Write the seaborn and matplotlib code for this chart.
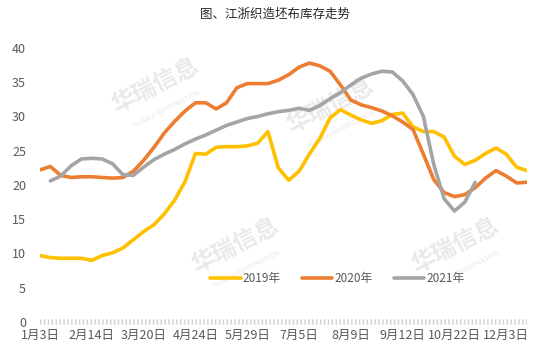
import numpy as np
import pandas as pd
import matplotlib
matplotlib.use("Agg")
import matplotlib.pyplot as plt
import seaborn as sns

# 横轴标签（每5周一个）
tick_labels = ["1月3日", "2月14日", "3月20日", "4月24日", "5月29日",
               "7月5日", "8月9日", "9月12日", "10月22日", "12月3日"]

# 江浙织造坯布库存（天）
y2019 = [9.7, 9.4, 9.3, 9.3, 9.3, 9.0, 9.7, 10.1, 10.8, 12.0,
         13.2, 14.2, 15.8, 17.8, 20.5, 24.6, 24.5, 25.5, 25.6, 25.6,
         25.7, 26.1, 27.8, 22.5, 20.7, 22.0, 24.5, 26.8, 29.8, 31.0,
         30.2, 29.5, 29.0, 29.4, 30.3, 30.5, 28.5, 27.8, 27.8, 27.0,
         24.2, 23.0, 23.6, 24.6, 25.4, 24.5, 22.6, 22.1]
y2020 = [22.2, 22.7, 21.4, 21.1, 21.2, 21.2, 21.1, 21.0, 21.1, 22.0,
         23.6, 25.5, 27.6, 29.3, 30.8, 32.0, 32.0, 31.1, 32.0, 34.2,
         34.8, 34.8, 34.8, 35.3, 36.1, 37.2, 37.8, 37.4, 36.6, 34.6,
         32.4, 31.7, 31.3, 30.8, 30.1, 29.2, 28.1, 24.5, 20.8, 18.9,
         18.3, 18.6, 19.6, 21.0, 22.1, 21.3, 20.3, 20.4]
y2021 = [np.nan, 20.6, 21.3, 22.8, 23.8, 23.9, 23.8, 23.1, 21.5, 21.4,
         22.6, 23.7, 24.5, 25.2, 26.0, 26.7, 27.3, 28.0, 28.7, 29.2,
         29.7, 30.0, 30.4, 30.7, 30.9, 31.2, 30.9, 31.6, 32.6, 33.5,
         34.6, 35.6, 36.2, 36.6, 36.5, 35.2, 33.2, 30.0, 23.0, 18.0,
         16.2, 17.5, 20.4]

series = {"2019年": y2019, "2020年": y2020, "2021年": y2021}
rows = []
for name, vals in series.items():
    for i, v in enumerate(vals):
        rows.append({"week": i, "value": v, "year": name})
df = pd.DataFrame(rows).dropna()

palette = {"2019年": "#FFC000", "2020年": "#ED7D31", "2021年": "#A5A5A5"}

sns.set_style("white")
plt.rcParams["font.family"] = ["Noto Sans CJK SC", "DejaVu Sans"]

fig = plt.figure(figsize=(5.5, 3.53), dpi=100)
ax = fig.add_axes([40 / 550, 1 - 322 / 353, 487 / 550, 274 / 353])

# 水印
wm = [(155, 85), (330, 105), (235, 245), (455, 245)]
for x, y in wm:
    ax.text(x / 550, 1 - y / 353, "华瑞信息", transform=fig.transFigure,
            fontsize=17, fontweight="bold", color="#e9e9e9", rotation=27,
            ha="center", va="center", zorder=0)
    ax.text(x / 550 + 0.02, 1 - y / 353 - 0.07, "HUARUI INFORMATION",
            transform=fig.transFigure, fontsize=5, color="#e9e9e9",
            rotation=27, ha="center", va="center", zorder=0)

sns.lineplot(data=df, x="week", y="value", hue="year", palette=palette,
             linewidth=2.6, ax=ax, zorder=3)

ax.set_xlim(0, 47)
ax.set_ylim(0, 40)
ax.set_xticks(range(0, 46, 5))
ax.set_xticklabels(tick_labels)
ax.set_yticks(range(0, 41, 5))
ax.set_xlabel("")
ax.set_ylabel("")
ax.tick_params(axis="both", length=0, labelsize=9, colors="#595959")
ax.tick_params(axis="y", pad=10)
ax.tick_params(axis="x", pad=5)
for s in ax.spines.values():
    s.set_visible(False)
ax.axhline(0, color="#d0d0d0", linewidth=4, linestyle=(0, (0.25, 0.45)),
           zorder=1, clip_on=False)

ax.legend(loc="center", bbox_to_anchor=(0.61, 0.16), ncol=3, frameon=False,
          fontsize=8.5, handlelength=2.6, handletextpad=0.15,
          columnspacing=1.8, labelcolor="#595959")

fig.text(0.5, 1 - 14 / 353, "图、江浙织造坯布库存走势", ha="center",
         va="center", fontsize=9, color="#262626")

fig.savefig("out.png", dpi=100)
